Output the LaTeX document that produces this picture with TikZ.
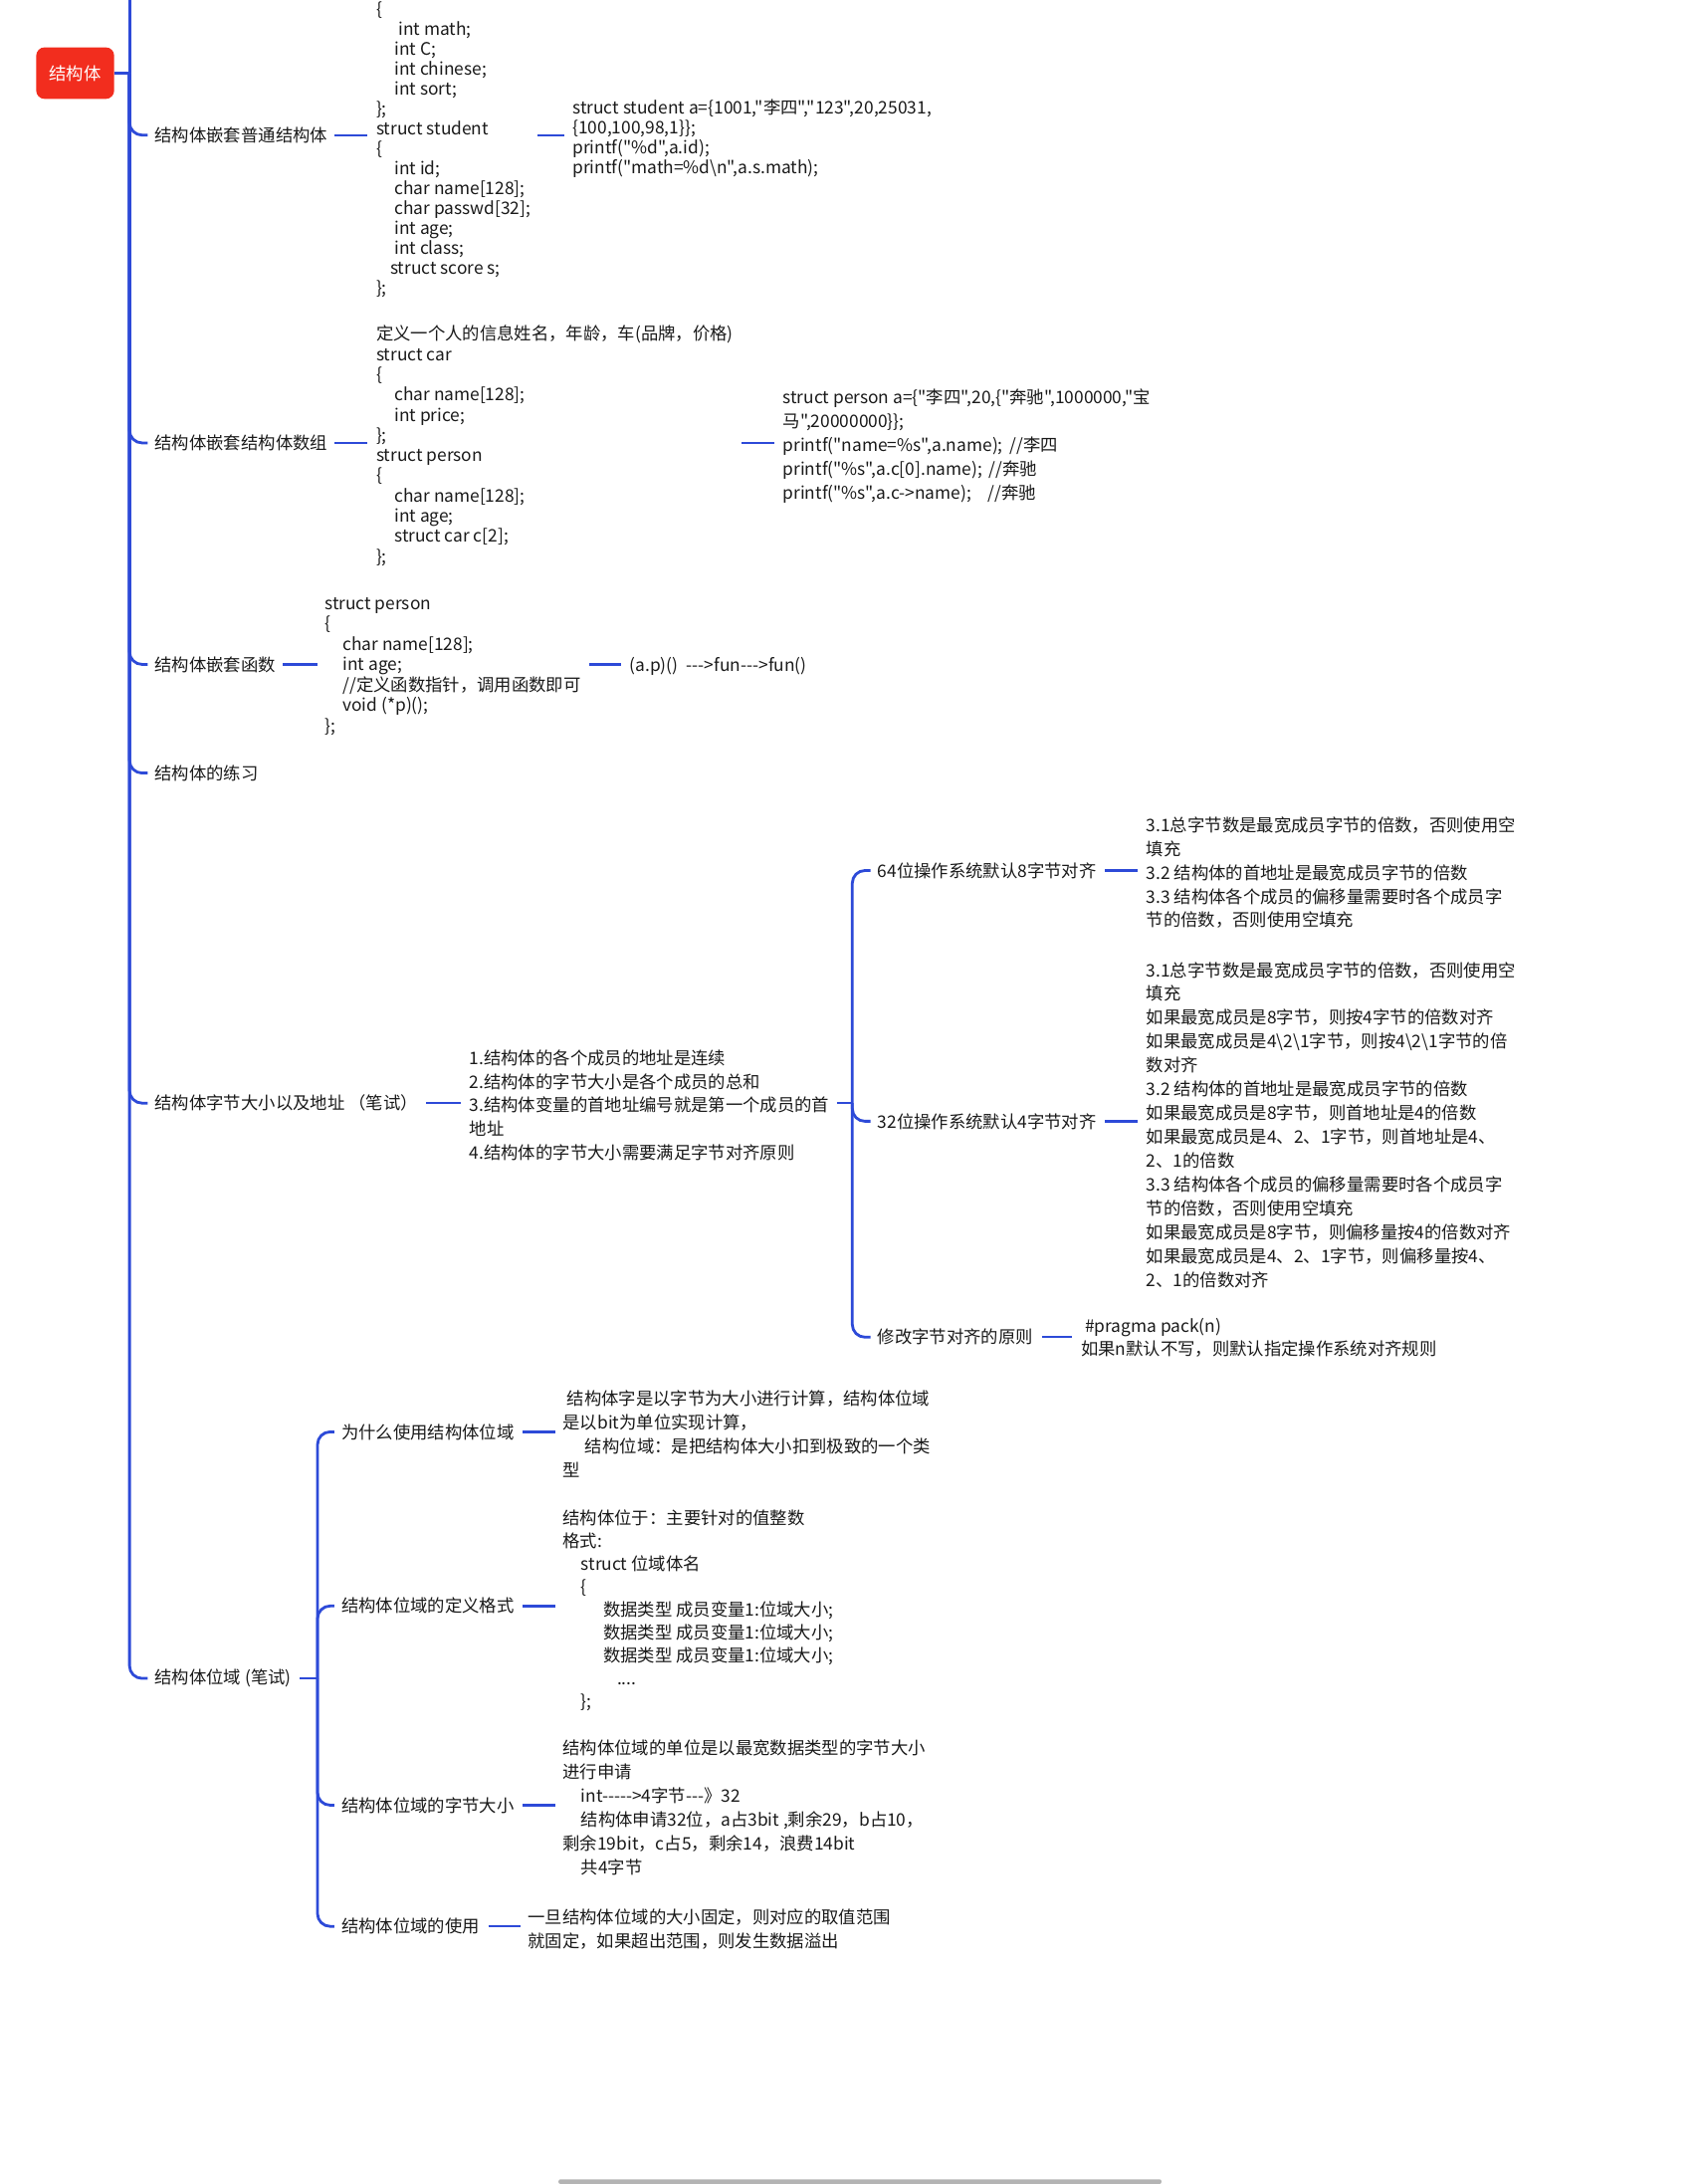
\documentclass[tikz,border=0pt]{standalone}
\usepackage{fontspec}
\newfontfamily\cjkf{Noto Sans CJK SC}
\usetikzlibrary{calc}
\definecolor{lineblue}{HTML}{2D4AD8}
\definecolor{rootred}{HTML}{F22D1E}
\definecolor{txt}{HTML}{1A1A1A}
\definecolor{barg}{HTML}{B4B4B4}
\begin{document}
\begin{tikzpicture}[x=1pt,y=-1pt,
  every node/.style={font=\cjkf\fontsize{12.4}{14.4}\selectfont, text=txt, inner sep=0pt},
  lbl/.style={anchor=west},
  codeblk/.style={anchor=west, align=left, yshift=-1.5pt, font=\cjkf\fontsize{12.4}{14.5}\selectfont},
  noteblk/.style={anchor=west, align=left, yshift=-1.5pt, font=\cjkf\fontsize{12.4}{17.1}\selectfont},
  conn/.style={draw=lineblue, line width=1.7pt},
  trunk/.style={draw=lineblue, line width=2pt},
  brl/.style={draw=lineblue, line width=2pt, rounded corners=9pt},
  rootbox/.style={fill=rootred, rounded corners=6pt, minimum width=56pt, minimum height=37pt, text=white}
]
\useasboundingbox (0,0) rectangle (1219.2,1568);
\fill[white] (0,0) rectangle (1219.2,1568);

% root
\node[rootbox] (root) at (54,52.5) {结构体};
\coordinate (rj) at (93,52.5);
\draw[conn] (root.east) -- (rj);
\draw[trunk] (rj) -- (93,-30);

% level 1 labels
\node[lbl] (a1) at (111,97) {结构体嵌套普通结构体};
\node[lbl] (a2) at (111,318) {结构体嵌套结构体数组};
\node[lbl] (a3) at (111,477) {结构体嵌套函数};
\node[lbl] (a4) at (111,555) {结构体的练习};
\node[lbl] (a5) at (111,792) {结构体字节大小以及地址 （笔试）};
\node[lbl] (a6) at (111,1205) {结构体位域 (笔试)};

\foreach \n in {a1,a2,a3,a4,a5,a6}
  \draw[brl] (rj) |- ($(\n.west)+(-5,0)$);

% A1
\node[codeblk, anchor=south west, font=\cjkf\fontsize{12.4}{14.3}\selectfont] (a1c) at (270,212) {\{\\
\hspace*{16pt}int math;\\
\hspace*{13pt}int C;\\
\hspace*{13pt}int chinese;\\
\hspace*{13pt}int sort;\\
\};\\
struct student\\
\{\\
\hspace*{13pt}int id;\\
\hspace*{13pt}char name[128];\\
\hspace*{13pt}char passwd[32];\\
\hspace*{13pt}int age;\\
\hspace*{13pt}int class;\\
\hspace*{10pt}struct score s;\\
\};};
\node[codeblk] (a1d) at (411,98) {struct student a=\{1001,"李四","123",20,25031,\\
\{100,100,98,1\}\};\\
printf("\%d",a.id);\\
printf("math=\%d\textbackslash n",a.s.math);};
\draw[conn] ($(a1.east)+(5,0)$) -- ($(a1c.west|-a1.east)+(-6,0)$);
\draw[conn] ($(a1c.east|-a1.east)+(5,0)$) -- ($(a1d.west|-a1.east)+(-6,0)$);

% A2
\node[codeblk] (a2c) at (270,318.5) {定义一个人的信息姓名，年龄，车(品牌，价格)\\
struct car\\
\{\\
\hspace*{13pt}char name[128];\\
\hspace*{13pt}int price;\\
\};\\
struct person\\
\{\\
\hspace*{13pt}char name[128];\\
\hspace*{13pt}int age;\\
\hspace*{13pt}struct car c[2];\\
\};};
\node[noteblk] (a2d) at (562,319) {struct person a=\{"李四",20,\{"奔驰",1000000,"宝\\
马",20000000\}\};\\
printf("name=\%s",a.name);\hspace{5pt}//李四\\
printf("\%s",a.c[0].name);\hspace{5pt}//奔驰\\
printf("\%s",a.c->name);\hspace{12pt}//奔驰};
\draw[conn] ($(a2.east)+(5,0)$) -- ($(a2c.west|-a2.east)+(-6,0)$);
\draw[conn] ($(a2c.east|-a2.east)+(6,0)$) -- ($(a2d.west|-a2.east)+(-6,0)$);

% A3
\node[codeblk, font=\cjkf\fontsize{12.4}{14.67}\selectfont] (a3c) at (233,477) {struct person\\
\{\\
\hspace*{13pt}char name[128];\\
\hspace*{13pt}int age;\\
\hspace*{13pt}//定义函数指针，调用函数即可\\
\hspace*{13pt}void (*p)();\\
\};};
\node[lbl, yshift=-1.5pt] (a3d) at (452,477) {(a.p)()\hspace{6pt}--->fun--->fun()};
\draw[conn] ($(a3.east)+(5,0)$) -- ($(a3c.west|-a3.east)+(-5,0)$);
\draw[conn] ($(a3c.east|-a3.east)+(6,0)$) -- ($(a3d.west|-a3.east)+(-6,0)$);

% A5
\node[noteblk] (a5c) at (337,792) {1.结构体的各个成员的地址是连续\\
2.结构体的字节大小是各个成员的总和\\
3.结构体变量的首地址编号就是第一个成员的首\\
地址\\
4.结构体的字节大小需要满足字节对齐原则};
\draw[conn] ($(a5.east)+(6,0)$) -- ($(a5c.west|-a5.east)+(-6,0)$);
\coordinate (bj) at (612,792);
\draw[conn] ($(a5c.east|-a5.east)+(5,0)$) -- (bj);

\node[lbl] (b1) at (630,625) {64位操作系统默认8字节对齐};
\node[lbl] (b2) at (630,805) {32位操作系统默认4字节对齐};
\node[lbl] (b3) at (630,960) {修改字节对齐的原则};
\foreach \n in {b1,b2,b3}
  \draw[brl] (bj) |- ($(\n.west)+(-5,0)$);

\node[noteblk] (b1c) at (823,625) {3.1总字节数是最宽成员字节的倍数，否则使用空\\
填充\\
3.2 结构体的首地址是最宽成员字节的倍数\\
3.3 结构体各个成员的偏移量需要时各个成员字\\
节的倍数，否则使用空填充};
\draw[conn] ($(b1.east)+(6,0)$) -- ($(b1c.west|-b1.east)+(-6,0)$);

\node[noteblk] (b2c) at (823,806) {3.1总字节数是最宽成员字节的倍数，否则使用空\\
填充\\
如果最宽成员是8字节，则按4字节的倍数对齐\\
如果最宽成员是4\textbackslash 2\textbackslash 1字节，则按4\textbackslash 2\textbackslash 1字节的倍\\
数对齐\\
3.2 结构体的首地址是最宽成员字节的倍数\\
如果最宽成员是8字节，则首地址是4的倍数\\
如果最宽成员是4、2、1字节，则首地址是4、\\
2、1的倍数\\
3.3 结构体各个成员的偏移量需要时各个成员字\\
节的倍数，否则使用空填充\\
如果最宽成员是8字节，则偏移量按4的倍数对齐\\
如果最宽成员是4、2、1字节，则偏移量按4、\\
2、1的倍数对齐};
\draw[conn] ($(b2.east)+(6,0)$) -- ($(b2c.west|-b2.east)+(-6,0)$);

\node[noteblk, font=\cjkf\fontsize{12.4}{16}\selectfont] (b3c) at (776,959) {\hspace*{3pt}\#pragma pack(n)\\
如果n默认不写，则默认指定操作系统对齐规则};
\draw[conn] ($(b3.east)+(6,0)$) -- ($(b3c.west|-b3.east)+(-6,0)$);

% A6
\coordinate (cj) at (228,1205);
\draw[conn] ($(a6.east)+(6,0)$) -- (cj);
\node[lbl] (c1) at (245,1028) {为什么使用结构体位域};
\node[lbl] (c2) at (245,1153) {结构体位域的定义格式};
\node[lbl] (c3) at (245,1296) {结构体位域的字节大小};
\node[lbl] (c4) at (245,1383) {结构体位域的使用};
\foreach \n in {c1,c2,c3,c4}
  \draw[brl] (cj) |- ($(\n.west)+(-5,0)$);

\node[noteblk, font=\cjkf\fontsize{12.4}{17.3}\selectfont] (c1c) at (404,1028) {\hspace*{3pt}结构体字是以字节为大小进行计算，结构体位域\\
是以bit为单位实现计算，\\
\hspace*{16pt}结构位域：是把结构体大小扣到极致的一个类\\
型};
\draw[conn] ($(c1.east)+(6,0)$) -- ($(c1c.west|-c1.east)+(-5,0)$);

\node[noteblk, font=\cjkf\fontsize{12.4}{16.4}\selectfont] (c2c) at (404,1154.5) {结构体位于：主要针对的值整数\\
格式:\\
\hspace*{13pt}struct 位域体名\\
\hspace*{13pt}\{\\
\hspace*{29pt}数据类型 成员变量1:位域大小;\\
\hspace*{29pt}数据类型 成员变量1:位域大小;\\
\hspace*{29pt}数据类型 成员变量1:位域大小;\\
\hspace*{39pt}....\\
\hspace*{13pt}\};};
\draw[conn] ($(c2.east)+(6,0)$) -- ($(c2c.west|-c2.east)+(-5,0)$);

\node[noteblk, font=\cjkf\fontsize{12.4}{17.2}\selectfont] (c3c) at (404,1296) {结构体位域的单位是以最宽数据类型的字节大小\\
进行申请\\
\hspace*{13pt}int----->4字节---》32\\
\hspace*{13pt}结构体申请32位，a占3bit ,剩余29，b占10，\\
剩余19bit，c占5，剩余14，浪费14bit\\
\hspace*{13pt}共4字节};
\draw[conn] ($(c3.east)+(6,0)$) -- ($(c3c.west|-c3.east)+(-5,0)$);

\node[noteblk] (c4c) at (379,1383.5) {一旦结构体位域的大小固定，则对应的取值范围\\
就固定，如果超出范围，则发生数据溢出};
\draw[conn] ($(c4.east)+(6,0)$) -- ($(c4c.west|-c4.east)+(-5,0)$);

% scrollbar
\fill[barg, rounded corners=1.5pt] (401,1564.6) rectangle (834,1568);
\end{tikzpicture}
\end{document}
